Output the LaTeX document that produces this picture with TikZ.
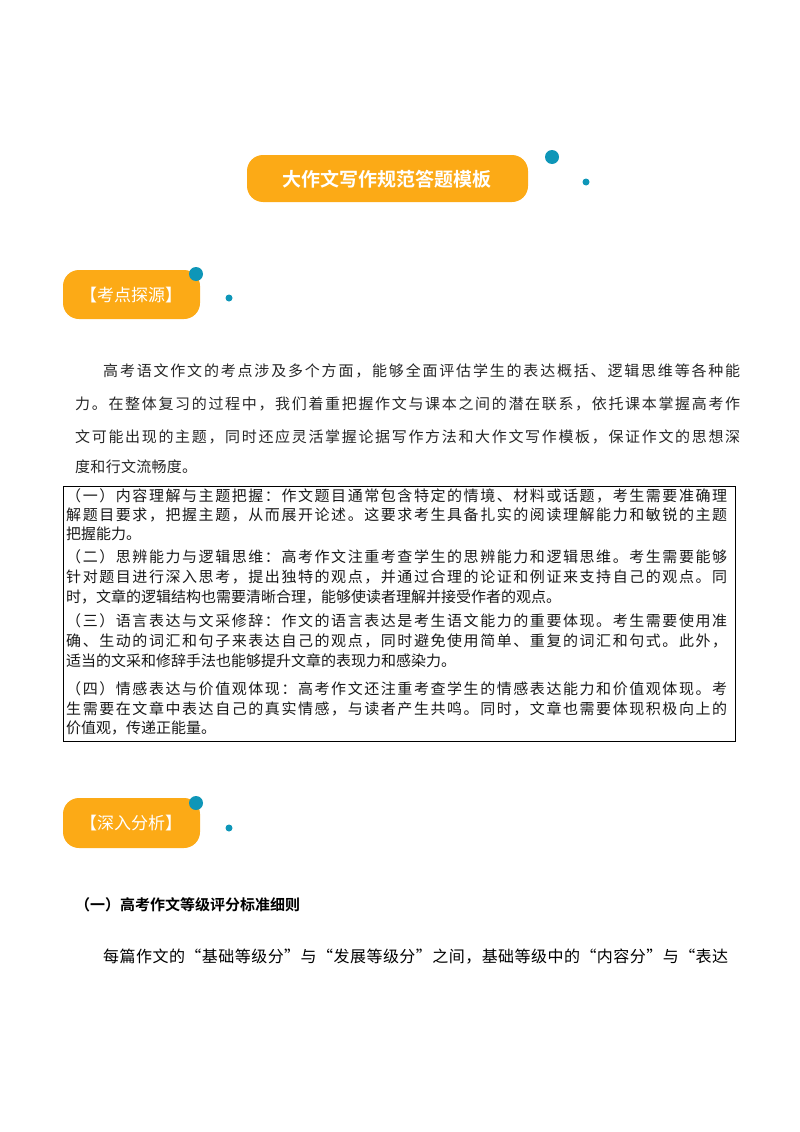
\documentclass[tikz,border=0pt]{standalone}
\usepackage{fontspec}
\setmainfont{Noto Sans CJK SC}
\newfontfamily\cjk{Noto Sans CJK SC}
\newfontfamily\cjkb{Noto Sans CJK SC Bold}
\definecolor{org}{HTML}{FCAA16}
\definecolor{tealc}{HTML}{0E96B8}
\tikzset{
  hdr/.style={fill=org,rounded corners=16pt,inner sep=0pt,text=white,font=\cjk\fontsize{17}{17}\selectfont},
  bigdot/.style={circle,fill=tealc,inner sep=0pt,minimum size=14pt},
  smalldot/.style={circle,fill=tealc,inner sep=0pt,minimum size=7pt},
  para/.style={anchor=west,inner sep=0pt,font=\cjk\fontsize{15}{15}\selectfont,text=black!85},
  boxl/.style={anchor=west,inner sep=0pt,font=\cjk\fontsize{15}{15}\selectfont,text=black!90}
}
\def\spr#1{\ifx#1\relax\else#1\hskip 0pt plus 1fil\relax\expandafter\spr\fi}
\newcommand{\jl}[2]{\makebox[#1pt][s]{\spr#2\relax\unskip}}
\begin{document}
\begin{tikzpicture}[x=1pt,y=-1pt]
\useasboundingbox (0,0) rectangle (800,1132);
% title
\path[hdr] (247,155) rectangle (528,202);
\node[text=white,font=\cjkb\fontsize{19}{19}\selectfont] (title) at (387,179) {大作文写作规范答题模板};
\node[bigdot] (d1) at (552,157) {};
\node[smalldot] (d2) at (586,182) {};
% header 1
\path[hdr] (63,270) rectangle (200,319);
\node[text=white,font=\cjk\fontsize{17}{17}\selectfont] (h1) at (131,295) {【考点探源】};
\node[bigdot] (d3) at (196,274) {};
\node[smalldot] (d4) at (229,298) {};
% paragraph
\node[para] (p1) at (103,371) {\jl{637}{高考语文作文的考点涉及多个方面，能够全面评估学生的表达概括、逻辑思维等各种能}};
\node[para] (p2) at (75,404) {\jl{665}{力。在整体复习的过程中，我们着重把握作文与课本之间的潜在联系，依托课本掌握高考作}};
\node[para] (p3) at (75,437) {\jl{665}{文可能出现的主题，同时还应灵活掌握论据写作方法和大作文写作模板，保证作文的思想深}};
\node[para] (p4) at (75,467) {\jl{122}{度和行文流畅度。}};
% box
\draw[black,line width=0.8pt] (63,486) rectangle (735,741);
\node[boxl] (b1) at (66,496) {\jl{661}{（一）内容理解与主题把握：作文题目通常包含特定的情境、材料或话题，考生需要准确理}};
\node[boxl] (b2) at (66,515) {\jl{661}{解题目要求，把握主题，从而展开论述。这要求考生具备扎实的阅读理解能力和敏锐的主题}};
\node[boxl] (b3) at (66,534) {把握能力。};
\node[boxl] (b4) at (66,557) {\jl{661}{（二）思辨能力与逻辑思维：高考作文注重考查学生的思辨能力和逻辑思维。考生需要能够}};
\node[boxl] (b5) at (66,577) {\jl{661}{针对题目进行深入思考，提出独特的观点，并通过合理的论证和例证来支持自己的观点。同}};
\node[boxl] (b6) at (66,597) {时，文章的逻辑结构也需要清晰合理，能够使读者理解并接受作者的观点。};
\node[boxl] (b7) at (66,621) {\jl{661}{（三）语言表达与文采修辞：作文的语言表达是考生语文能力的重要体现。考生需要使用准}};
\node[boxl] (b8) at (66,641) {\jl{661}{确、生动的词汇和句子来表达自己的观点，同时避免使用简单、重复的词汇和句式。此外，}};
\node[boxl] (b9) at (66,661) {适当的文采和修辞手法也能够提升文章的表现力和感染力。};
\node[boxl] (b10) at (66,689) {\jl{661}{（四）情感表达与价值观体现：高考作文还注重考查学生的情感表达能力和价值观体现。考}};
\node[boxl] (b11) at (66,709) {\jl{661}{生需要在文章中表达自己的真实情感，与读者产生共鸣。同时，文章也需要体现积极向上的}};
\node[boxl] (b12) at (66,728) {价值观，传递正能量。};
% header 2
\path[hdr] (63,798) rectangle (200,848);
\node[text=white,font=\cjk\fontsize{17}{17}\selectfont] (h2) at (131,823) {【深入分析】};
\node[bigdot] (d5) at (196,803) {};
\node[smalldot] (d6) at (229,828) {};
% section
\node[anchor=west,inner sep=0pt,font=\cjkb\fontsize{15}{15}\selectfont] (s1) at (75,905) {（一）高考作文等级评分标准细则};
\node[anchor=west,inner sep=0pt,font=\cjk\fontsize{16}{16}\selectfont] (s2) at (103,957) {\jl{625}{每篇作文的“基础等级分”与“发展等级分”之间，基础等级中的“内容分”与“表达}};
\end{tikzpicture}
\end{document}
